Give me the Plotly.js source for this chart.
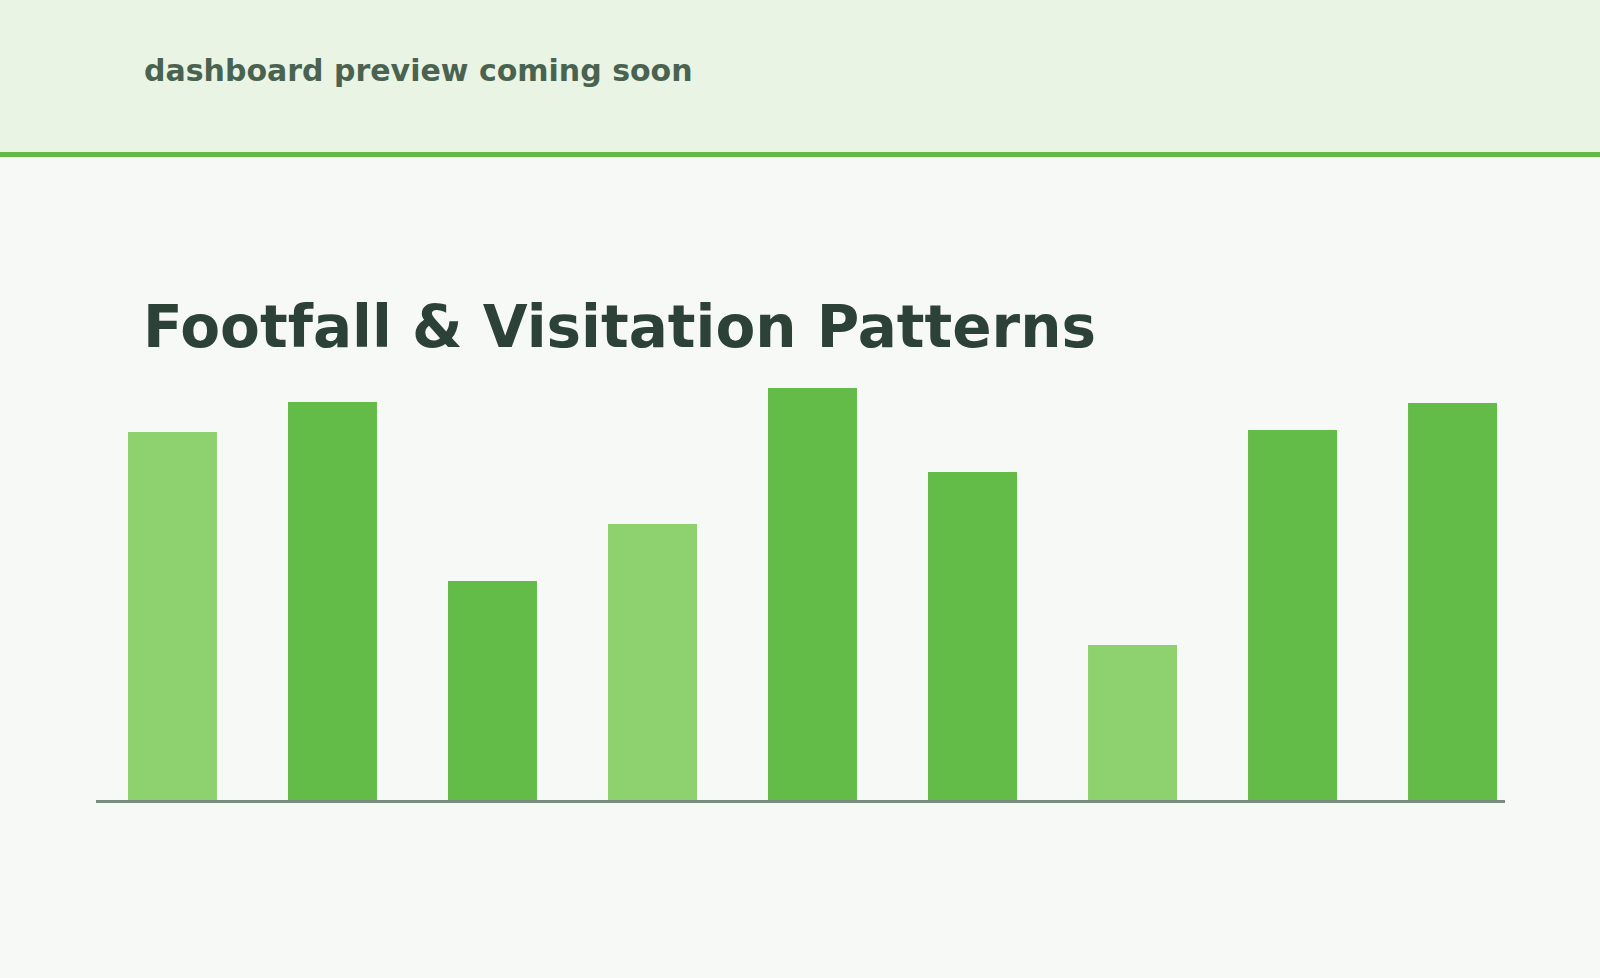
<!DOCTYPE html>
<html>
<head>
<meta charset="utf-8">
<script src="https://cdn.plot.ly/plotly-3.0.1.min.js"></script>
<style>
html,body{margin:0;padding:0;background:#f7f9f7;}
#chart{width:1600px;height:978px;}
</style>
</head>
<body>
<div id="chart"></div>
<script>
// Data
var categories = ["P1","P2","P3","P4","P5","P6","P7","P8","P9"];
var footfall = [368, 398, 219, 276, 412, 328, 155, 370, 397];
var barColors = ["#8ed16f","#63bb48","#63bb48","#8ed16f","#63bb48","#63bb48","#8ed16f","#63bb48","#63bb48"];
var titleText = "Footfall & Visitation Patterns";
var subtitleText = "dashboard preview coming soon";

var W = 1600, H = 978;
function py(p){ return 1 - p / H; }

var trace = {
  type: "bar",
  x: categories,
  y: footfall,
  marker: {color: barColors, line: {width: 0}},
  hoverinfo: "none"
};

var layout = {
  width: W, height: H,
  margin: {l: 0, r: 0, t: 0, b: 0, pad: 0},
  paper_bgcolor: "#f7f9f7",
  plot_bgcolor: "rgba(0,0,0,0)",
  showlegend: false,
  bargap: 0.444,
  font: {family: "DejaVu Sans, sans-serif"},
  title: {
    text: titleText,
    font: {family: "DejaVu Sans", size: 58, color: "#2d4236", weight: "bold"},
    xref: "paper", yref: "paper",
    x: 143 / W, xanchor: "left",
    y: py(326.5), yanchor: "middle"
  },
  xaxis: {
    domain: [96 / W, 1505 / W],
    range: [-0.478, 8.328],
    showticklabels: false,
    ticks: "",
    showgrid: false,
    zeroline: false,
    showline: false,
    fixedrange: true
  },
  yaxis: {
    domain: [py(800), py(350)],
    range: [0, 450],
    showticklabels: false,
    ticks: "",
    showgrid: false,
    zeroline: false,
    showline: false,
    fixedrange: true
  },
  shapes: [
    {type: "rect", xref: "paper", yref: "paper", x0: 0, x1: 1, y0: py(152), y1: 1,
     fillcolor: "#e9f4e4", line: {width: 0}, layer: "below"},
    {type: "rect", xref: "paper", yref: "paper", x0: 0, x1: 1, y0: py(157), y1: py(152),
     fillcolor: "#62b946", line: {width: 0}, layer: "below"},
    {type: "line", xref: "paper", yref: "paper", x0: 96 / W, x1: 1505 / W, y0: py(801.5), y1: py(801.5),
     line: {color: "#7a8c80", width: 3}, layer: "above"}
  ],
  annotations: [
    {text: subtitleText, xref: "paper", yref: "paper", x: 142 / W, xanchor: "left",
     y: py(71), yanchor: "middle", showarrow: false,
     font: {family: "DejaVu Sans", size: 30, color: "#4a6350", weight: "bold"}}
  ]
};

Plotly.newPlot("chart", [trace], layout, {displayModeBar: false, staticPlot: true});
</script>
</body>
</html>
